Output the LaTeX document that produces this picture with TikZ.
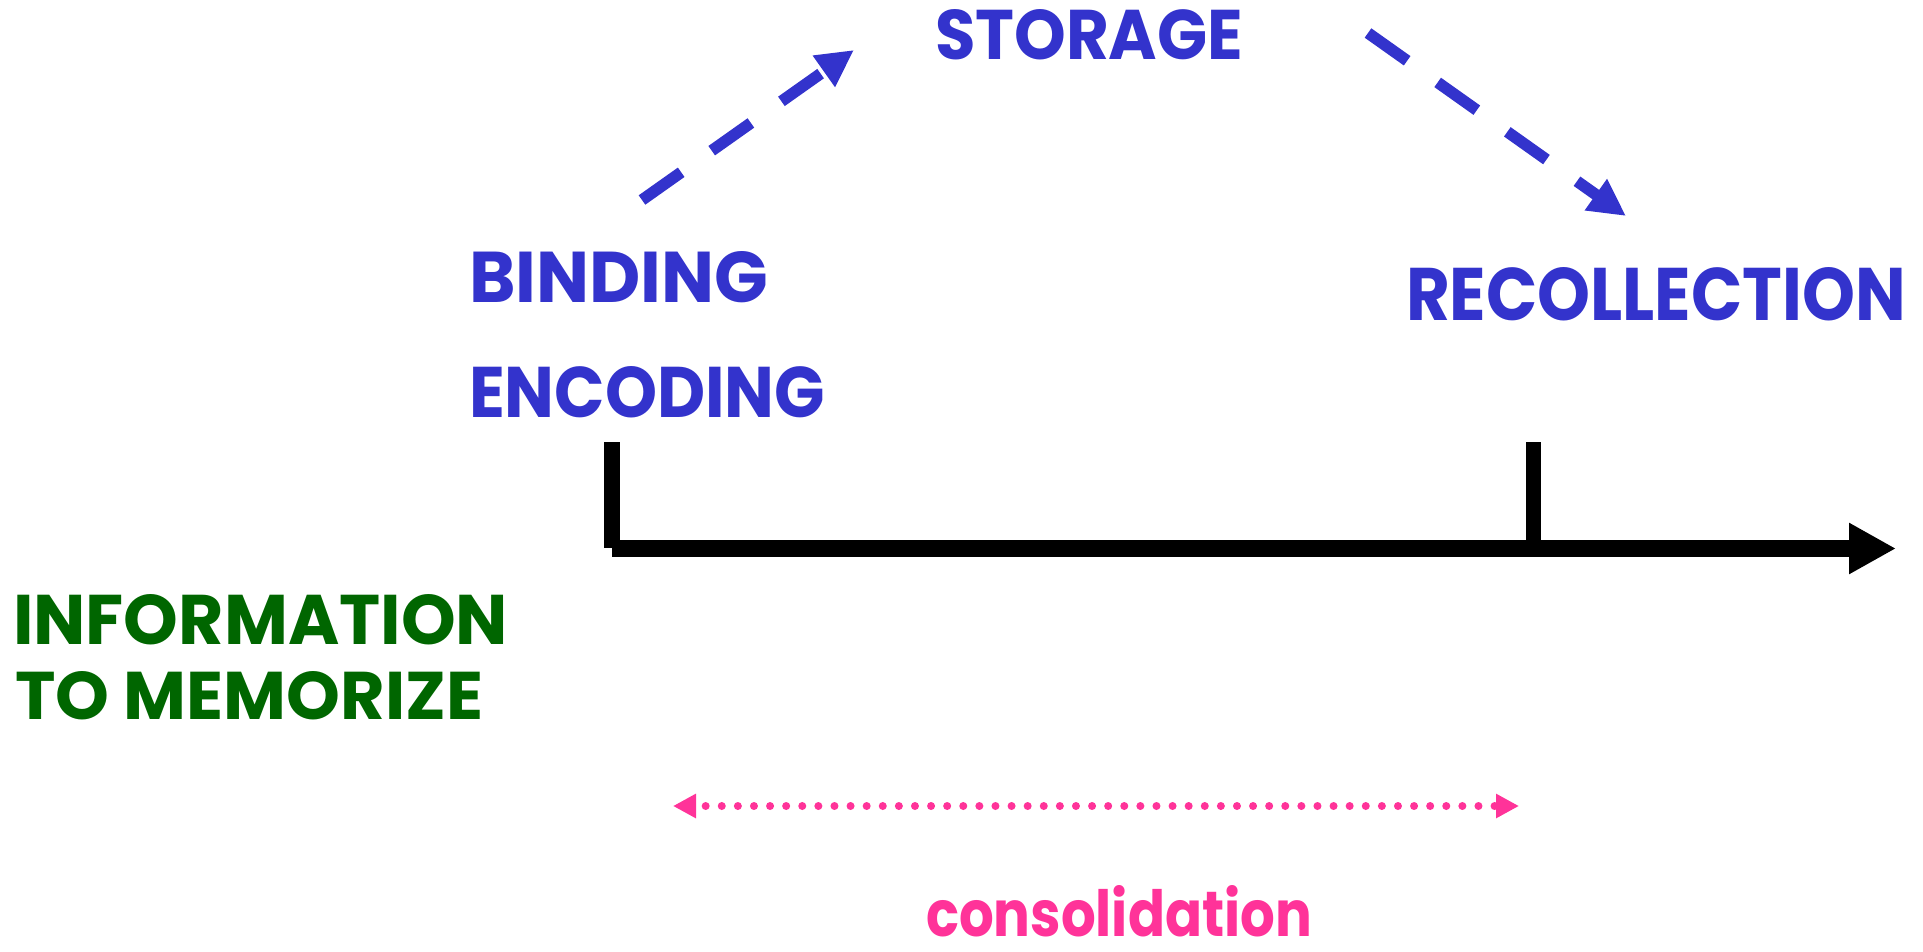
\documentclass[tikz,border=0pt]{standalone}
\usepackage{fontspec}
\setmainfont{Poppins}
\usepackage{graphicx}
\usetikzlibrary{arrows.meta}
\definecolor{memblue}{RGB}{51,51,204}
\definecolor{memgreen}{RGB}{0,102,0}
\definecolor{mempink}{RGB}{255,51,153}
\newcommand{\fitbox}[3]{\resizebox{#1pt}{#2pt}{\bfseries #3}}
\begin{document}
\begin{tikzpicture}[x=1pt,y=-1pt,
  txt/.style={inner sep=0pt, outer sep=0pt, anchor=south west},
  bluedash/.style={draw=memblue, line width=11.5pt, dash pattern=on 48pt off 37.4pt,
    -{Triangle[length=37pt,width=36pt]}},
  timeline/.style={draw=black, line width=17pt, -{Triangle[length=47pt,width=48pt]}},
  tickbar/.style={draw=black, line width=16pt},
  pinkdots/.style={draw=mempink, line width=8pt, line cap=round,
    dash pattern=on 0pt off 16.1pt, dash phase=5pt,
    {Triangle[length=23pt,width=23pt]}-{Triangle[length=23pt,width=23pt]}}]
\useasboundingbox (0,0) rectangle (1923,951);

% labels
\node[txt, text=memblue] (storage) at (935,60) {\fitbox{308}{50}{STORAGE}};
\node[txt, text=memblue] (binding) at (469,303) {\fitbox{299}{51}{BINDING}};
\node[txt, text=memblue] (encoding) at (469,418) {\fitbox{356}{51}{ENCODING}};
\node[txt, text=memblue] (recollection) at (1406,321) {\fitbox{500}{53}{RECOLLECTION}};
\node[txt, text=memgreen] (information) at (13,645) {\fitbox{495}{50}{INFORMATION}};
\node[txt, text=memgreen] (memorize) at (15,720) {\fitbox{468}{48}{TO MEMORIZE}};
\node[txt, text=mempink] (consolidation) at (926,937) {\fitbox{386}{51}{consolidation}};

% blue dashed arrows
\coordinate (upstart) at (642,200);
\coordinate (upend) at (854,50);
\coordinate (downstart) at (1368,33);
\coordinate (downend) at (1626,216);
\draw[bluedash] (upstart) -- (upend);
\draw[bluedash] (downstart) -- (downend);

% time line
\coordinate (tlstart) at (612,548.5);
\coordinate (tlend) at (1896,548.5);
\coordinate (tickAtop) at (612,442);
\coordinate (tickAbot) at (612,548);
\coordinate (tickBtop) at (1533.5,442);
\coordinate (tickBbot) at (1533.5,541);
\draw[tickbar] (tickAtop) -- (tickAbot);
\draw[tickbar, line width=15pt] (tickBtop) -- (tickBbot);
\draw[timeline] (tlstart) -- (tlend);

% consolidation span
\coordinate (consleft) at (673,806);
\coordinate (consright) at (1519,806);
\draw[pinkdots] (consleft) -- (consright);
\end{tikzpicture}
\end{document}
